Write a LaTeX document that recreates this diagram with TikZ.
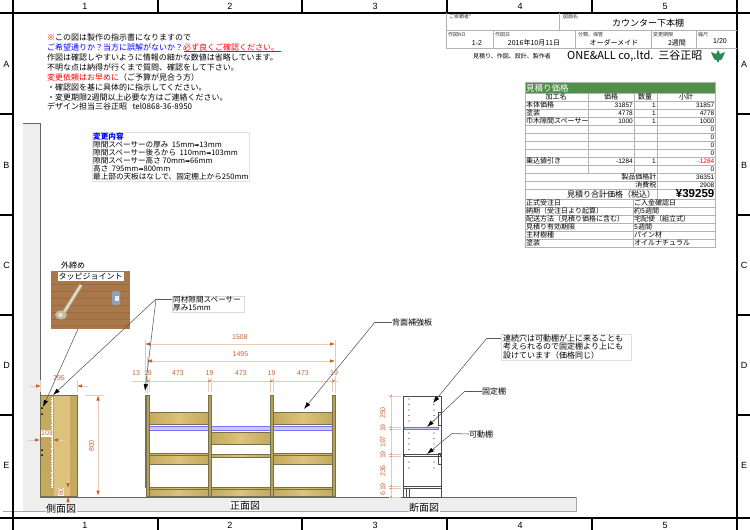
\documentclass[tikz,border=0pt]{standalone}
\usepackage{fontspec}
\setmainfont{Noto Sans CJK JP}
\newfontfamily\numfont{Liberation Sans}
\newfontfamily\symfont{DejaVu Sans}
\usetikzlibrary{arrows.meta,calc}
\definecolor{dimc}{HTML}{C8643A}
\definecolor{dimline}{HTML}{EBC9B6}
\definecolor{tipc}{HTML}{D2560F}
\definecolor{woodA}{HTML}{C4AA5E}
\definecolor{woodB}{HTML}{DCC27A}
\definecolor{woodE}{HTML}{77704E}
\definecolor{postc}{HTML}{B89F5A}
\definecolor{floorc}{HTML}{EEEEEE}
\definecolor{greenh}{HTML}{4F8F4A}
\definecolor{leafc}{HTML}{2E8B57}
\definecolor{blueb}{HTML}{C9C9F5}
\definecolor{photoc}{HTML}{A9784A}
\definecolor{photod}{HTML}{8C5F38}
\definecolor{boltc}{HTML}{C2BC9C}
\definecolor{jointc}{HTML}{8FA0B8}
\newcommand{\arr}{{\symfont\fontsize{6}{6}\selectfont ➡}}
\tikzset{
  frameln/.style={line width=1.5pt,black},
  tb/.style={draw=gray!60,line width=.5pt},
  txt/.style={inner sep=0pt,anchor=base west,font=\fontsize{8}{8}\selectfont},
  chg/.style={inner sep=0pt,anchor=base west,font=\fontsize{7.6}{7.6}\selectfont},
  small/.style={inner sep=0pt,anchor=base west,font=\fontsize{5}{5}\selectfont,text=black!80},
  gridt/.style={inner sep=0pt,font=\numfont\fontsize{9}{9}\selectfont},
  cell/.style={inner sep=0pt,anchor=base west,font=\fontsize{7}{7}\selectfont},
  numc/.style={inner sep=0pt,anchor=base east,font=\numfont\fontsize{6.5}{6.5}\selectfont},
  dimt/.style={inner sep=.6pt,fill=white,text=dimc,font=\numfont\fontsize{7}{7}\selectfont},
  dimln/.style={draw=dimline,line width=.6pt},
  dimar/.style={draw=dimline,line width=.6pt,{Latex[length=5pt,width=3.5pt,color=tipc]}-{Latex[length=5pt,width=3.5pt,color=tipc]}},
  dimone/.style={draw=dimline,line width=.6pt,-{Latex[length=5pt,width=3.5pt,color=tipc]}},
  lead/.style={draw=black!65,line width=.55pt,-{Latex[length=7pt,width=4.5pt,color=black]}},
  leadp/.style={draw=black!65,line width=.55pt},
  wood/.style={left color=woodA,right color=woodA,middle color=woodB,draw=woodE,line width=.6pt},
  post/.style={fill=postc,draw=woodE,line width=.45pt},
  view/.style={inner sep=.5pt,fill=white,font=\fontsize{10}{10}\selectfont},
  hole/.style={circle,fill=black,inner sep=0pt,minimum size=1.1pt},
}
\begin{document}
\begin{tikzpicture}[x=1pt,y=-1pt]
\useasboundingbox (0,0) rectangle (750,530);
\fill[white] (0,0) rectangle (750,530);

% floor and wall
\fill[floorc] (23,123) rectangle (40,511);
\fill[floorc] (40,497) rectangle (576,511);
\draw[black!60,line width=.5pt] (23,123) -- (40,123) -- (40,497) -- (576,497);
\draw[black!35,line width=.5pt] (576,497) -- (576,511) -- (3,511);

% drawing frame
\draw[frameln] (0,13) -- (750,13);
\draw[frameln] (0,518) -- (750,518);
\draw[frameln] (13,0) -- (13,530);
\draw[frameln] (737,0) -- (737,530);
\foreach \x in {158,302,447,592} {
  \draw[frameln] (\x,0) -- (\x,13);
  \draw[frameln] (\x,518) -- (\x,530);
}
\foreach \y in {114,215,315,415} {
  \draw[frameln] (0,\y) -- (13,\y);
  \draw[frameln] (737,\y) -- (750,\y);
}
\foreach \t/\x in {1/85,2/230,3/375,4/520,5/665} {
  \node[gridt] (top\t) at (\x,6.5) {\t};
  \node[gridt] (bot\t) at (\x,525) {\t};
}
\foreach \t/\y in {A/64,B/165,C/265,D/365,E/465} {
  \node[gridt] (lft\t) at (6.5,\y) {\t};
  \node[gridt] (rgt\t) at (744,\y) {\t};
}

% title block
\draw[tb] (446,13) -- (446,48) -- (737,48);
\draw[tb] (446,30) -- (737,30);
\draw[tb] (559,13) -- (559,30);
\foreach \x in {493,575,651,696} \draw[tb] (\x,30) -- (\x,48);
\node[small] (b1) at (449,18) {ご依頼者*};
\node[small] (b2) at (563,18) {図面名};
\node[small] (b3) at (448,36) {作図NO};
\node[small] (b4) at (495,36) {作図日};
\node[small] (b5) at (578,36) {分類、保管};
\node[small] (b6) at (653,36) {変更期限};
\node[small] (b7) at (698,36) {縮尺};
\node[inner sep=0pt,font=\fontsize{9}{9}\selectfont] (bt) at (648,23.5) {カウンター下本棚};
\node[inner sep=0pt,font=\numfont\fontsize{7}{7}\selectfont] (bno) at (477,43) {1-2};
\node[inner sep=0pt,font=\fontsize{7}{7}\selectfont] (bdate) at (534,42.5) {2016年10月11日};
\node[inner sep=0pt,font=\fontsize{7}{7}\selectfont] (bcat) at (614,42.5) {オーダーメイド};
\node[inner sep=0pt,font=\fontsize{7}{7}\selectfont] (bper) at (677,42.5) {2週間};
\node[inner sep=0pt,font=\numfont\fontsize{7}{7}\selectfont] (bsc) at (720,40.5) {1/20};
\node[inner sep=0pt,font=\fontsize{6}{6}\selectfont] (bmk) at (512,56) {見積り、作図、設計、製作者};
\node[inner sep=0pt,font=\fontsize{11}{11}\selectfont,anchor=west] (bco) at (567,56) {ONE\&ALL co,.ltd.\ \ 三谷正昭};
% logo
\fill[leafc] (718,50) -- (720,54) -- (725,52) -- (723,57) -- (721,60) -- (719,60) -- (719,62) -- (717,62) -- (717,60) -- (715,60) -- (713,57) -- (711,52) -- (716,54) -- cycle;

% instruction note
\node[txt] (n1) at (47,40) {\textcolor{red}{※}この図は製作の指示書になりますので};
\node[txt] (n2) at (47,50) {\textcolor{blue}{ご希望通りか？当方に誤解がないか？}\textcolor{red}{必ず良くご確認ください。}};
\node[txt] (n3) at (47,60) {作図は確認しやすいように情報の細かな数値は省略しています。};
\node[txt] (n4) at (47,70) {不明な点は納得が行くまで質問、確認をして下さい。};
\node[txt] (n5) at (47,80) {\textcolor{red}{変更依頼はお早めに}（ご予算が見合う方）};
\node[txt] (n6) at (47,90) {・確認図を基に具体的に指示してください。};
\node[txt] (n7) at (47,100) {・変更期限2週間以上必要な方はご連絡ください。};
\node[txt] (n8) at (47,109) {デザイン担当三谷正昭\ \ \ tel0868-36-8950};
\draw[red,line width=.8pt] (184,51.5) -- (281,51.5);

% change list
\draw[draw=black!12,line width=.5pt] (92,132) rectangle (249,181);
\node[chg,text=blue] (c0) at (93,139.5) {\textbf{変更内容}};
\node[chg] (c1) at (93,147.5) {隙間スペーサーの厚み\ \ 15mm\arr 13mm};
\node[chg] (c2) at (93,155.5) {隙間スペーサー後ろから\ \ 110mm\arr 103mm};
\node[chg] (c3) at (93,163.5) {隙間スペーサー高さ 70mm\arr 66mm};
\node[chg] (c4) at (93,171.5) {高さ\ \ 795mm\arr 800mm};
\node[chg] (c5) at (93,179.5) {最上部の天板はなしで、固定棚上から250mm};

% estimate table
\fill[greenh] (525,82) rectangle (715,93);
\node[inner sep=0pt,anchor=base west,text=white,font=\fontsize{8.5}{8.5}\selectfont] (th) at (526,91) {見積り価格};
\draw[tb] (525,82) rectangle (715,247);
\foreach \y in {93,101,109,117,125,133,141,149,157,165,173,181,189,199,207,215,223,231,239}
  \draw[tb] (525,\y) -- (715,\y);
\foreach \x in {588,634} \draw[tb] (\x,93) -- (\x,173);
\draw[tb] (657,93) -- (657,199);
\draw[tb] (633,199) -- (633,247);
\node[cell,anchor=base] (h1) at (556,99.5) {加工名};
\node[cell,anchor=base] (h2) at (611,99.5) {価格};
\node[cell,anchor=base] (h3) at (645,99.5) {数量};
\node[cell,anchor=base] (h4) at (686,99.5) {小計};
\node[cell] (r1) at (526,107.5) {本体価格};
\node[cell] (r2) at (526,115.5) {塗装};
\node[cell] (r3) at (526,123.5) {巾木隙間スペーサー};
\node[cell] (r9) at (526,163.5) {乗込値引き};
\node[numc] (p1) at (633,107.5) {31857};
\node[numc] (p2) at (633,115.5) {4778};
\node[numc] (p3) at (633,123.5) {1000};
\node[numc] (p9) at (633,163.5) {-1284};
\foreach \y/\k in {107.5/a,115.5/b,123.5/c,163.5/d} \node[numc] (q\k) at (656,\y) {1};
\node[numc] (s1) at (714.5,107.5) {31857};
\node[numc] (s2) at (714.5,115.5) {4778};
\node[numc] (s3) at (714.5,123.5) {1000};
\foreach \y/\k in {131.5/a,139.5/b,147.5/c,155.5/d,171.5/e} \node[numc] (z\k) at (714.5,\y) {0};
\node[numc,text=red] (s9) at (714.5,163.5) {-1284};
\node[cell,anchor=base east] (t1) at (656.5,179.5) {製品価格計};
\node[cell,anchor=base east] (t2) at (656.5,187.5) {消費税};
\node[numc] (v1) at (714.5,179.5) {36351};
\node[numc] (v2) at (714.5,187.5) {2908};
\node[inner sep=0pt,anchor=base,font=\fontsize{8}{8}\selectfont] (t3) at (611,197) {見積り合計価格（税込）};
\node[inner sep=0pt,anchor=base east,font=\numfont\bfseries\fontsize{11.5}{11.5}\selectfont] (v3) at (714.5,197.5) {¥39259};
\node[cell] (l1) at (526,205.5) {正式受注日};
\node[cell] (l2) at (526,213.5) {納期（受注日より起算）};
\node[cell] (l3) at (526,221.5) {配送方法（見積り価格に含む）};
\node[cell] (l4) at (526,229.5) {見積り有効期限};
\node[cell] (l5) at (526,237.5) {主材樹種};
\node[cell] (l6) at (526,245.5) {塗装};
\node[cell] (m1) at (634,205.5) {ご入金確認日};
\node[cell] (m2) at (634,213.5) {約5週間};
\node[cell] (m3) at (634,221.5) {宅配便（組立式）};
\node[cell] (m4) at (634,229.5) {5週間};
\node[cell] (m5) at (634,237.5) {パイン材};
\node[cell] (m6) at (634,245.5) {オイルナチュラル};

% photo
\fill[photoc] (51,271) rectangle (130,329);
\foreach \y in {284,291,298,305,312,319,325}
  \draw[photod,opacity=.45,line width=.7pt] (51,\y) -- (130,\y);
\draw[line width=3.6pt,color=boltc] (63,314) -- (81,285);
\draw[line width=.9pt,color=white!85!boltc] (63.5,313) -- (81,285);
\fill[boltc] (61,315) ellipse (6 and 4.5);
\fill[white!60!boltc] (60.5,315) ellipse (2.5 and 2);
\fill[jointc,rounded corners=1.5pt] (112,291) rectangle (120,305);
\fill[white!80!jointc] (115,296) rectangle (118.5,301);
\node[inner sep=1pt,fill=white,font=\fontsize{8}{8}\selectfont] (ph2) at (90.5,276.5) {タッピジョイント};
\node[inner sep=.5pt,fill=white,font=\fontsize{8}{8}\selectfont] (ph1) at (73,265) {外締め};

% side view
\fill[woodA] (40,395) rectangle (77,496);
\fill[woodB] (54,395) rectangle (70,496);
\fill[woodA!92!brown] (40,430) rectangle (53,470);
\draw[woodE,line width=.6pt] (40,395) rectangle (77,496);
\fill[white] (51,397) rectangle (53,488);
\draw[black!40,dotted,line width=.4pt] (51,397) -- (51,488) -- (53,488) -- (53,397);
\foreach \y/\k in {408/a,414/b,450/c,455/d} \node[hole,minimum size=2pt] (sh\k) at (42,\y) {};

% front view
\foreach \xa/\xb/\k in {149/208/a,273/332/b} {
  \draw[wood] (\xa,412) rectangle (\xb,424);
  \draw[wood] (\xa,453) rectangle (\xb,464);
  \draw[woodE,line width=.8pt] (\xa,455.5) -- (\xb,455.5);
  \draw[wood] (\xa,487) rectangle (\xb,496);
  \draw[woodE,line width=.6pt] (\xa,489.5) -- (\xb,489.5);
}
\draw[wood] (211,432) rectangle (270,444);
\draw[wood] (211,454) rectangle (270,457);
\draw[wood] (211,487) rectangle (270,496);
\draw[woodE,line width=.6pt] (211,489.5) -- (270,489.5);
\foreach \xa/\xb in {149/208,211/270,273/332} {
  \draw[fill=blueb,draw=blue!55!white,line width=.5pt] (\xa,426) rectangle (\xb,430);
}
\draw[post] (144.8,395) rectangle (146.5,487);
\draw[post] (146,395) rectangle (149,496);
\foreach \xa/\xb in {208/211,270/273,332/335}
  \draw[post] (\xa,395) rectangle (\xb,496);

% section view
\draw[black!70,line width=.6pt] (403,396) rectangle (441,497);
\foreach \x/\k in {409/a,434/b} \foreach \y in {399,404.5,410,415.5,421,433,438.5,444,449.5,462,468}
  \fill[black!80] (\x,\y) circle (.55);
\draw[fill=blueb,draw=blue!55!white,line width=.5pt] (404,427) rectangle (438,429.5);
\draw[black!70,line width=.5pt,fill=white] (404,454) rectangle (440,456.5);
\draw[black!70,line width=.5pt] (438,412) rectangle (441,425);
\draw[black!70,line width=.5pt] (438,453) rectangle (441,464);
\draw[black!70,line width=.5pt] (403,486) -- (441,486);
\draw[black!70,line width=.5pt] (403,488.5) -- (441,488.5);
\draw[black!70,line width=.5pt] (406,488.5) -- (406,497);
\draw[black!70,line width=.5pt] (409,488.5) -- (409,497);

% dimensions: side view
\coordinate (d1a) at (30,386); \coordinate (d1b) at (41,386);
\coordinate (d1c) at (88,386); \coordinate (d1d) at (77,386);
\draw[dimone] (d1a) -- (d1b);
\draw[dimone] (d1c) -- (d1d);
\draw[dimln] (40,380) -- (40,392);
\draw[dimln] (77,380) -- (77,392);
\node[dimt] (d795) at (59,378.5) {795};
\coordinate (d2a) at (28,440); \coordinate (d2b) at (40,440);
\coordinate (d2c) at (66,440); \coordinate (d2d) at (53,440);
\draw[dimone] (d2a) -- (d2b);
\draw[dimone] (d2c) -- (d2d);
\node[dimt] (d103) at (47,433.5) {103};
\coordinate (d3a) at (98,395.5); \coordinate (d3b) at (98,495.5);
\draw[dimar] (d3a) -- (d3b);
\draw[dimln] (85,395) -- (104,395);
\node[dimt,rotate=90] (d800) at (91.5,446) {800};
\coordinate (d4a) at (68,478); \coordinate (d4b) at (68,488);
\coordinate (d4c) at (68,506); \coordinate (d4d) at (68,497);
\draw[dimone] (d4a) -- (d4b);
\draw[dimone] (d4c) -- (d4d);
\node[dimt,rotate=90] (d60) at (61,492) {60};

% dimensions: front view
\coordinate (e1a) at (145,344); \coordinate (e1b) at (335,344);
\draw[dimar] (e1a) -- (e1b);
\node[dimt] (e1508) at (240,337) {1508};
\coordinate (e2a) at (147,361); \coordinate (e2b) at (335,361);
\draw[dimar] (e2a) -- (e2b);
\node[dimt] (e1495) at (240.5,354.5) {1495};
\draw[dimln] (132,381) -- (338,381);
\draw[dimln] (145,340) -- (145,393);
\draw[dimln] (147,357) -- (147,393);
\draw[dimln] (335,340) -- (335,393);
\foreach \x in {149,208,211,270,273,332} \draw[dimln] (\x,378) -- (\x,392);
\foreach \x in {147.5,148.5,209,210,271,272,333,334}
  \draw[tipc,line width=.4pt] (\x-.6,382) -- (\x+.6,380);
\foreach \t/\x/\k in {13/136/a,19/148/b,473/178/c,19/209.5/d,473/241/e,19/271.5/f,473/303/g,19/334/h}
  \node[dimt] (e3\k) at (\x,373) {\t};

% dimensions: section view
\draw[dimln] (391,394) -- (391,499);
\foreach \y in {396,427,429.5,454,456.5,486,488.5,497}
  \draw[dimln] (389,\y) -- (401,\y);
\foreach \y in {396,427,429.5,454,456.5,486,488.5,497}
  \draw[tipc,line width=.4pt] (390,\y+.6) -- (392,\y-.6);
\foreach \t/\y/\k in {250/413/a,19/428/b,197/442/c,19/455/d,236/471/e,19/487/f,6/493.5/g}
  \node[dimt,rotate=90] (f\k) at (383,\y) {\t};

% callouts
\node[inner sep=.5pt,draw=black!15,line width=.4pt,minimum width=72pt,minimum height=16pt] (lblS) at (208,304) {};
\node[chg] (lblS1) at (173,302) {同材隙間スペーサー};
\node[chg] (lblS2) at (173,310.5) {厚み15mm};
\coordinate (elS) at (156,299);
\coordinate (tipS1) at (53,395);
\coordinate (tipS2) at (145,391);
\draw[leadp] (172,299) -- (elS);
\draw[lead] (elS) -- (tipS1);
\draw[lead] (elS) -- (tipS2);
\coordinate (tipP) at (43,407);
\draw[lead] (78,329) -- (tipP);

\node[txt,anchor=west] (lblB) at (392,322) {背面補強板};
\coordinate (elB) at (375,322);
\coordinate (tipB) at (304,409);
\draw[leadp] (lblB.west) -- (elB);
\draw[lead] (elB) -- (tipB);

\draw[draw=black!12,line width=.5pt] (501,334) rectangle (631,360);
\node[txt] (lblN1) at (503,341) {連続穴は可動棚が上に来ることも};
\node[txt] (lblN2) at (503,349.5) {考えられるので固定棚より上にも};
\node[txt] (lblN3) at (503,358) {設けています（価格同じ）};
\coordinate (elN) at (487,338);
\coordinate (tipN) at (433,403);
\draw[leadp] (501,338) -- (elN);
\draw[lead] (elN) -- (tipN);

\node[txt,anchor=west] (lblF) at (482,391) {固定棚};
\coordinate (elF) at (465,391);
\coordinate (tipF) at (427,427);
\draw[leadp] (lblF.west) -- (elF);
\draw[lead] (elF) -- (tipF);

\node[txt,anchor=west] (lblM) at (469,434) {可動棚};
\coordinate (elM) at (452,433.5);
\coordinate (tipM) at (427,454);
\draw[leadp] (lblM.west) -- (elM);
\draw[lead] (elM) -- (tipM);

% view names
\node[view] (vs) at (61,509) {側面図};
\node[view] (vf) at (245,506) {正面図};
\node[view] (vc) at (424,508) {断面図};
\end{tikzpicture}
\end{document}
